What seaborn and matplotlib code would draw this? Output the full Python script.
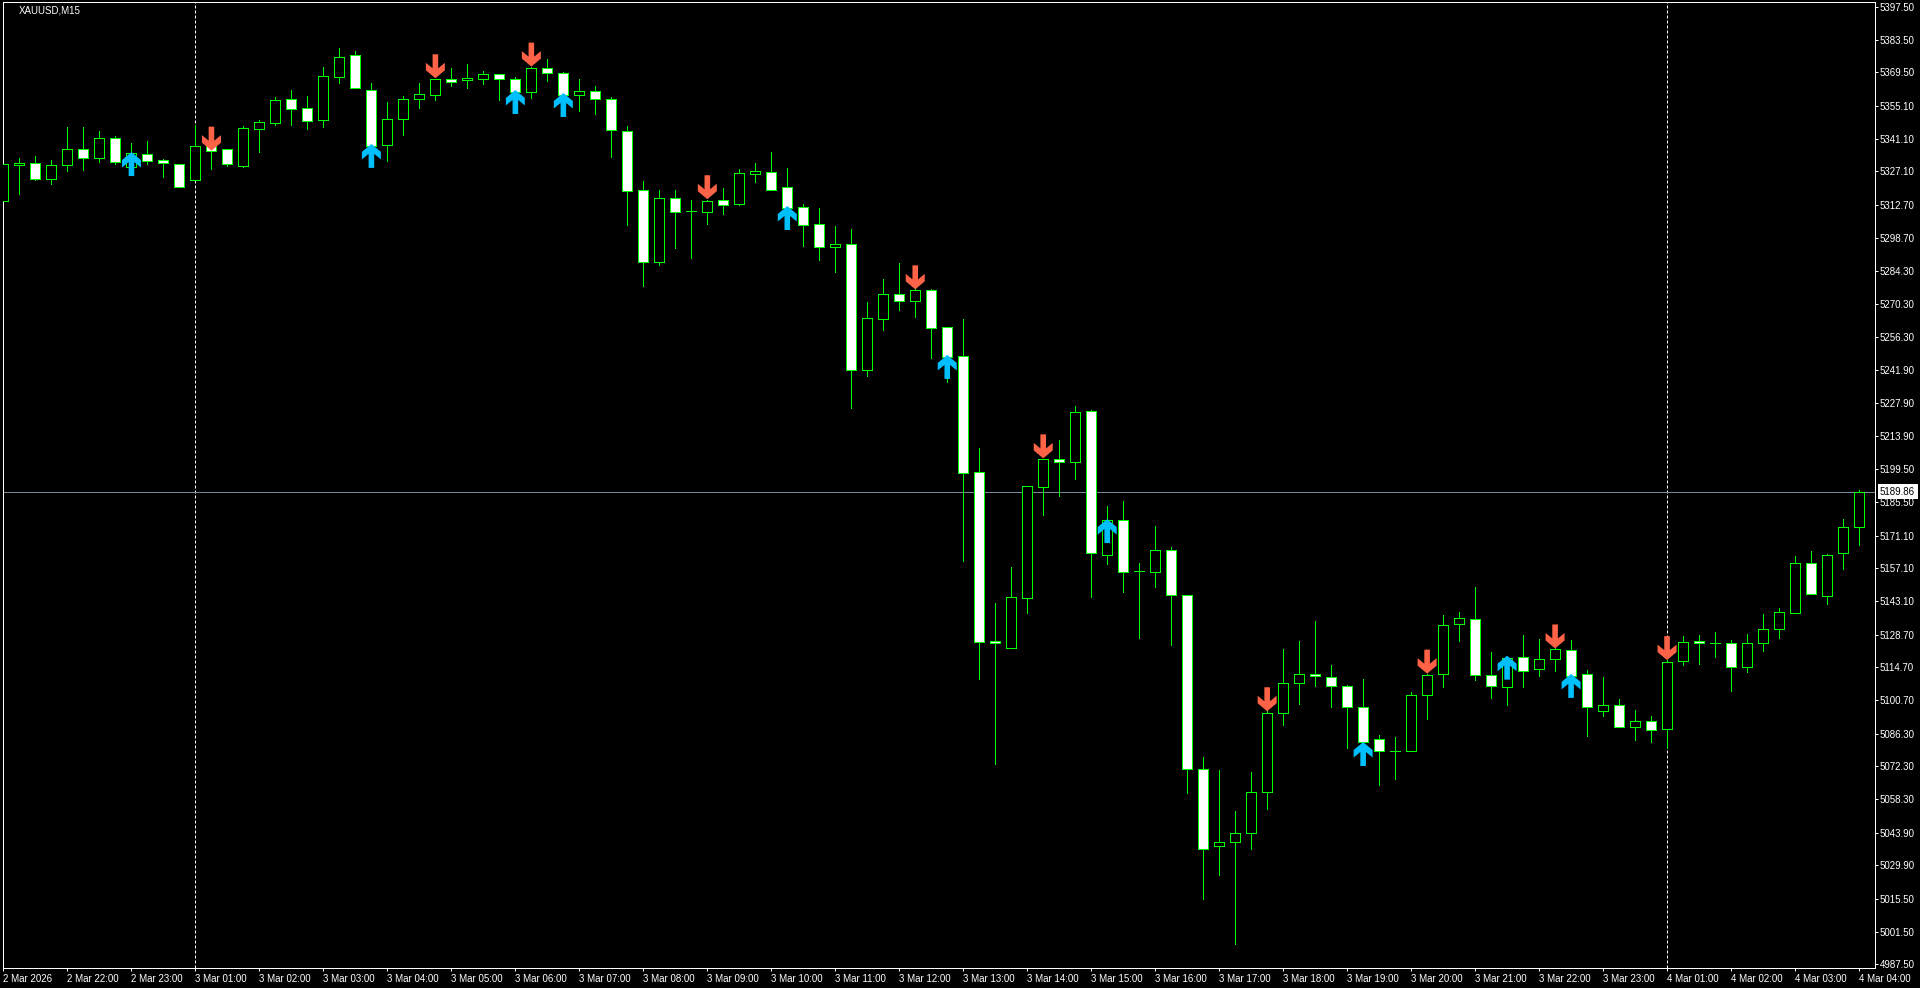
import matplotlib
matplotlib.use('Agg')

import matplotlib.pyplot as plt
import matplotlib.path as mpath
import pandas as pd
import seaborn as sns

# M15 candles, one entry per bar
opens = [5314.6, 5330.0, 5330.6, 5324.0, 5329.7, 5336.6, 5333.0, 5341.3, 5329.2, 5334.4,
         5331.9, 5330.1, 5323.6, 5338.6, 5336.6, 5329.6, 5345.4, 5348.0, 5358.0, 5354.1,
         5349.3, 5367.7, 5376.8, 5361.8, 5338.6, 5349.7, 5358.0, 5360.0, 5366.6, 5366.4,
         5366.8, 5368.7, 5366.8, 5361.3, 5371.3, 5369.1, 5360.0, 5361.4, 5358.0, 5344.3,
         5319.0, 5288.5, 5315.6, 5310.0, 5309.9, 5314.7, 5313.3, 5326.2, 5326.7, 5320.3,
         5311.7, 5304.5, 5294.9, 5295.9, 5242.2, 5264.0, 5274.5, 5271.8, 5276.2, 5260.3,
         5247.9, 5198.2, 5125.8, 5123.1, 5144.6, 5192.1, 5203.8, 5202.8, 5224.4, 5163.0,
         5177.7, 5155.8, 5155.7, 5164.8, 5145.5, 5071.0, 5038.0, 5039.8, 5043.6, 5061.5,
         5095.0, 5107.9, 5112.0, 5110.7, 5106.6, 5097.9, 5084.2, 5078.7, 5078.7, 5103.0,
         5112.0, 5133.1, 5135.6, 5111.4, 5106.4, 5119.0, 5113.9, 5118.4, 5122.0, 5111.7,
         5095.9, 5098.7, 5089.3, 5091.6, 5088.4, 5117.3, 5126.1, 5125.3, 5125.0, 5115.0,
         5125.0, 5131.3, 5138.1, 5159.3, 5145.1, 5163.5, 5174.7]
highs = [5332.7, 5332.7, 5333.7, 5332.0, 5346.1, 5346.1, 5344.4, 5342.3, 5339.1, 5340.1,
         5332.4, 5330.1, 5346.9, 5340.7, 5336.6, 5346.6, 5349.0, 5358.8, 5362.0, 5359.4,
         5371.8, 5380.0, 5378.7, 5364.8, 5356.8, 5359.3, 5365.0, 5366.7, 5371.4, 5373.1,
         5370.1, 5368.8, 5367.4, 5372.0, 5375.1, 5369.7, 5366.7, 5363.7, 5358.8, 5346.6,
         5322.9, 5319.0, 5319.0, 5314.9, 5314.9, 5320.0, 5328.2, 5330.7, 5335.4, 5328.6,
         5313.2, 5311.5, 5303.7, 5302.5, 5271.2, 5280.9, 5287.7, 5276.6, 5276.6, 5260.3,
         5263.9, 5208.5, 5142.1, 5157.7, 5192.2, 5203.8, 5212.1, 5226.6, 5224.9, 5183.8,
         5186.0, 5159.3, 5175.2, 5166.1, 5145.5, 5076.3, 5070.7, 5053.2, 5069.9, 5096.3,
         5122.6, 5126.0, 5134.6, 5115.6, 5107.1, 5109.7, 5085.7, 5084.7, 5104.0, 5112.0,
         5137.0, 5138.3, 5149.0, 5121.3, 5119.0, 5128.6, 5126.7, 5122.8, 5126.4, 5113.6,
         5110.6, 5101.1, 5096.4, 5093.9, 5117.8, 5128.1, 5128.4, 5129.8, 5126.3, 5129.0,
         5137.5, 5140.1, 5162.4, 5164.5, 5163.3, 5178.2, 5190.7]
lows = [5313.0, 5317.4, 5323.4, 5321.7, 5327.3, 5327.7, 5331.1, 5330.3, 5327.7, 5330.4,
        5324.9, 5320.6, 5323.6, 5328.2, 5329.6, 5329.2, 5335.4, 5347.0, 5347.0, 5345.3,
        5346.1, 5365.0, 5363.0, 5338.1, 5331.6, 5342.7, 5354.3, 5357.7, 5363.7, 5362.8,
        5364.6, 5357.7, 5360.6, 5358.6, 5365.8, 5359.1, 5353.0, 5351.7, 5333.4, 5304.2,
        5278.0, 5287.0, 5294.3, 5290.0, 5304.6, 5308.9, 5312.7, 5322.6, 5319.3, 5311.6,
        5295.2, 5289.2, 5283.9, 5225.8, 5239.5, 5259.2, 5267.8, 5264.8, 5247.2, 5237.1,
        5160.4, 5109.9, 5073.3, 5123.1, 5138.1, 5180.0, 5188.2, 5195.4, 5145.0, 5159.1,
        5147.0, 5127.4, 5149.3, 5124.4, 5061.0, 5015.6, 5025.6, 4996.1, 5037.0, 5054.2,
        5089.9, 5099.1, 5106.6, 5097.9, 5080.3, 5080.7, 5064.5, 5067.0, 5078.7, 5092.7,
        5106.3, 5126.1, 5109.4, 5101.7, 5098.6, 5106.4, 5111.0, 5113.3, 5110.7, 5085.3,
        5094.0, 5089.0, 5083.6, 5082.7, 5080.0, 5115.8, 5116.1, 5119.1, 5104.7, 5112.9,
        5121.7, 5127.3, 5138.1, 5146.0, 5142.0, 5157.0, 5167.1]
closes = [5330.3, 5330.6, 5324.0, 5329.7, 5336.6, 5333.0, 5341.3, 5331.3, 5334.9, 5331.7,
          5330.9, 5320.6, 5337.9, 5335.7, 5330.4, 5345.6, 5348.1, 5357.6, 5354.0, 5348.9,
          5367.8, 5376.0, 5363.0, 5338.1, 5349.4, 5358.0, 5360.1, 5366.6, 5365.6, 5367.0,
          5368.7, 5366.8, 5361.3, 5371.3, 5369.1, 5360.0, 5361.4, 5358.0, 5345.0, 5318.9,
          5288.5, 5315.6, 5309.9, 5310.0, 5314.3, 5312.9, 5326.3, 5327.2, 5319.3, 5311.6,
          5304.3, 5294.9, 5295.9, 5241.9, 5264.2, 5274.5, 5271.8, 5276.2, 5260.2, 5247.8,
          5198.1, 5125.7, 5125.0, 5144.7, 5192.2, 5203.8, 5202.8, 5223.9, 5163.8, 5177.7,
          5155.7, 5155.8, 5164.8, 5145.8, 5071.0, 5036.8, 5039.8, 5043.6, 5061.5, 5095.0,
          5107.9, 5112.0, 5110.9, 5106.6, 5097.9, 5082.6, 5078.7, 5078.7, 5103.0, 5111.4,
          5133.0, 5135.8, 5111.3, 5106.6, 5118.9, 5113.0, 5118.1, 5122.4, 5111.1, 5097.9,
          5098.7, 5089.0, 5091.6, 5087.7, 5116.8, 5125.7, 5125.3, 5125.3, 5115.0, 5125.0,
          5131.3, 5138.3, 5159.3, 5146.0, 5162.7, 5174.7, 5189.86]

# signal arrows: bar number and the price at the arrow tip
buy_bars = [8, 23, 32, 35, 49, 59, 69, 85, 94, 98]
buy_tips = [5335.4, 5338.9, 5362.0, 5360.7, 5312.3, 5248.5, 5178.2, 5082.7, 5119.7, 5111.9]
sell_bars = [13, 27, 33, 44, 57, 65, 79, 89, 97, 104]
sell_tips = [5336.0, 5367.0, 5372.0, 5315.2, 5276.6, 5204.2, 5095.9, 5112.0, 5122.8, 5117.8]

last_price = 5189.86
separator_bars = [12, 104]

price_ticks = [5397.50, 5383.50, 5369.50, 5355.10, 5341.10, 5327.10, 5312.70, 5298.70, 5284.30, 5270.30,
               5256.30, 5241.90, 5227.90, 5213.90, 5199.50, 5185.50, 5171.10, 5157.10, 5143.10, 5128.70,
               5114.70, 5100.70, 5086.30, 5072.30, 5058.30, 5043.90, 5029.90, 5015.50, 5001.50, 4987.50]
time_labels = ['2 Mar 2026', '2 Mar 22:00', '2 Mar 23:00'] \
    + ['3 Mar %02d:00' % h for h in range(1, 24)] \
    + ['4 Mar %02d:00' % h for h in range(1, 5)]

GREEN = '#00FF00'
PX = 0.72  # one pixel in points at dpi 100

sns.set_theme(style='dark', rc={'axes.facecolor': 'black', 'figure.facecolor': 'black', 'axes.grid': False})
plt.rcParams['font.family'] = ['Liberation Sans', 'DejaVu Sans']

n_bars = len(opens)
bars = list(range(n_bars))

fig = plt.figure(figsize=(19.2, 9.88), dpi=100)
ax = fig.add_axes([2.5 / 1920, 20.5 / 988, 1872.5 / 1920, 965 / 988])

# separators and price line sit behind the candles
for bar in separator_bars:
    ax.axvline(bar, color='white', linewidth=PX, linestyle=(0, (3, 2)), zorder=1)
ax.axhline(last_price, color='#778899', linewidth=PX, zorder=1)

# wicks
wicks = pd.DataFrame({'bar': bars + bars, 'price': highs + lows})
sns.lineplot(data=wicks, x='bar', y='price', units='bar', estimator=None, color=GREEN,
             linewidth=PX, antialiased=False, legend=False, zorder=2, ax=ax)

# bodies: white for falling bars, black for rising ones
body_bottom = [min(o, c) for o, c in zip(opens, closes)]
body_height = [abs(c - o) for o, c in zip(opens, closes)]
body_color = ['white' if c < o else 'black' for o, c in zip(opens, closes)]
ax.bar(bars, body_height, bottom=body_bottom, width=10 / 16, color=body_color,
       edgecolor=GREEN, linewidth=PX, antialiased=False, zorder=3)

# arrows, anchored at the tip
down_arrow = mpath.Path([(0, 0), (9.5, 8), (9.5, 15.5), (2.8, 10), (2.8, 24), (-2.8, 24),
                         (-2.8, 10), (-9.5, 15.5), (-9.5, 8), (0, 0)], closed=True)
up_arrow = mpath.Path([(x, -y) for x, y in down_arrow.vertices], closed=True)
sns.scatterplot(x=sell_bars, y=sell_tips, marker=down_arrow, s=1194, color='#FF6347',
                edgecolor='none', zorder=4, legend=False, ax=ax)
sns.scatterplot(x=buy_bars, y=buy_tips, marker=up_arrow, s=1194, color='#00BFFF',
                edgecolor='none', zorder=4, legend=False, ax=ax)

ax.set_xlim(-0.0625, 117)
ax.set_ylim(4986.14, 5399.46)
ax.set_xlabel('')
ax.set_ylabel('')

ax.yaxis.tick_right()
ax.set_yticks(price_ticks)
ax.set_yticklabels(['%.2f' % p for p in price_ticks])
ax.set_xticks(bars[::4])
ax.set_xticklabels(time_labels, ha='left')
ax.tick_params(axis='both', colors='white', length=2.5, width=PX, labelsize=7)
ax.tick_params(axis='x', bottom=True, pad=2.2)
ax.tick_params(axis='y', right=True, pad=1)
for spine in ax.spines.values():
    spine.set_visible(True)
    spine.set_color('white')
    spine.set_linewidth(PX)

ax.text(16 / 1872.5, 1 - 8.5 / 965, 'XAUUSD,M15', color='white', fontsize=7,
        transform=ax.transAxes, ha='left', va='center')
ax.text(1.00267, last_price, '%.2f' % last_price, color='black', fontsize=7, ha='left', va='center',
        transform=ax.get_yaxis_transform(), clip_on=False, zorder=6,
        bbox=dict(boxstyle='square,pad=0.25', facecolor='white', edgecolor='none'))

fig.savefig('out.png', dpi=100, facecolor='black')
